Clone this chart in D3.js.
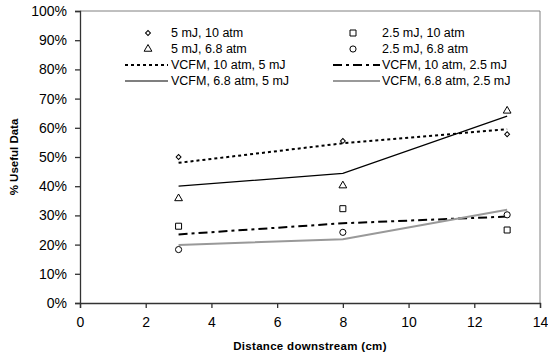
<!DOCTYPE html>
<html>
<head>
<meta charset="utf-8">
<script src="https://cdn.jsdelivr.net/npm/d3@7"></script>
<style>
  body { margin: 0; background: #fff; }
  text { font-family: "Liberation Sans", Arial, sans-serif; fill: #000; }
</style>
</head>
<body>
<div id="chart"></div>
<script>
// distances (cm)
const distances = [3, 8, 13];

// measured points (% useful data)
const pts5mJ10atm = [50, 55.5, 57.8];
const pts5mJ68atm = [35.8, 40.2, 65.8];
const pts25mJ10atm = [26.3, 32.3, 25];
const pts25mJ68atm = [18.3, 24.2, 30.2];

// VCFM model lines
const vcfm10atm5mJ = [48, 54.7, 59.5];
const vcfm68atm5mJ = [40, 44.4, 64];
const vcfm10atm25mJ = [23.5, 27.3, 29.6];
const vcfm68atm25mJ = [19.9, 21.8, 31.9];

const xTicks = [0, 2, 4, 6, 8, 10, 12, 14];
const yTicks = [0, 10, 20, 30, 40, 50, 60, 70, 80, 90, 100];

const width = 548, height = 360;
const margin = {top: 11, right: 8, bottom: 57, left: 80};

const svg = d3.select("#chart").append("svg")
  .attr("width", width)
  .attr("height", height);

const x = d3.scaleLinear().domain([0, 14]).range([margin.left, width - margin.right]);
const y = d3.scaleLinear().domain([0, 100]).range([height - margin.bottom, margin.top]);

// frame (top/right)
svg.append("path")
  .attr("d", `M${x(0)},${y(100)}H${x(14)}V${y(0)}`)
  .attr("fill", "none")
  .attr("stroke", "#808080")
  .attr("stroke-width", 1);

// axes
const xAxis = svg.append("g")
  .attr("transform", `translate(0,${y(0)})`)
  .call(d3.axisBottom(x).tickValues(xTicks).tickSize(5).tickPadding(9).tickFormat(d3.format("d")));
const yAxis = svg.append("g")
  .attr("transform", `translate(${x(0)},0)`)
  .call(d3.axisLeft(y).tickValues(yTicks).tickSize(5).tickPadding(8).tickFormat(d => d + "%"));

[xAxis, yAxis].forEach(g => {
  g.selectAll("path, line").attr("stroke", "#333").attr("stroke-width", 1.3);
  g.selectAll("text").style("font-size", "14px").attr("fill", "#222");
});

// axis titles
svg.append("text")
  .attr("x", (x(0) + x(14)) / 2)
  .attr("y", 350)
  .attr("text-anchor", "middle")
  .style("font-size", "11.5px")
  .style("font-weight", "bold")
  .style("letter-spacing", "0.3px")
  .text("Distance downstream (cm)");

svg.append("text")
  .attr("transform", `translate(18,${(y(0) + y(100)) / 2}) rotate(-90)`)
  .attr("text-anchor", "middle")
  .style("font-size", "11.5px")
  .style("font-weight", "bold")
  .text("% Useful Data");

// lines
const lineGen = d3.line()
  .x((d, i) => x(distances[i]))
  .y(d => y(d));

const lineSeries = [
  {name: "VCFM, 10 atm, 5 mJ", values: vcfm10atm5mJ, stroke: "#000", width: 2, dash: "3,3"},
  {name: "VCFM, 10 atm, 2.5 mJ", values: vcfm10atm25mJ, stroke: "#000", width: 2, dash: "9,4,3,4"},
  {name: "VCFM, 6.8 atm, 5 mJ", values: vcfm68atm5mJ, stroke: "#000", width: 1.2, dash: null},
  {name: "VCFM, 6.8 atm, 2.5 mJ", values: vcfm68atm25mJ, stroke: "#999", width: 2, dash: null}
];

svg.append("g").selectAll("path")
  .data(lineSeries)
  .join("path")
  .attr("d", d => lineGen(d.values))
  .attr("fill", "none")
  .attr("stroke", d => d.stroke)
  .attr("stroke-width", d => d.width)
  .attr("stroke-dasharray", d => d.dash);

// markers (diamond = square turned 45 degrees)
const pointSeries = [
  {name: "5 mJ, 10 atm", values: pts5mJ10atm, symbol: d3.symbolSquare, size: 12, rot: 45},
  {name: "2.5 mJ, 10 atm", values: pts25mJ10atm, symbol: d3.symbolSquare, size: 36, rot: 0},
  {name: "5 mJ, 6.8 atm", values: pts5mJ68atm, symbol: d3.symbolTriangle, size: 26, rot: 0},
  {name: "2.5 mJ, 6.8 atm", values: pts25mJ68atm, symbol: d3.symbolCircle, size: 30, rot: 0}
];

pointSeries.forEach(s => {
  svg.append("g").selectAll("path")
    .data(s.values)
    .join("path")
    .attr("transform", (d, i) => `translate(${x(distances[i])},${y(d)}) rotate(${s.rot})`)
    .attr("d", d3.symbol(s.symbol, s.size))
    .attr("fill", "#fff")
    .attr("stroke", "#000")
    .attr("stroke-width", 1);
});

// legend
const legendRows = [33, 49, 65, 81];
const cols = [
  {sym: 148, lineX0: 125, lineX1: 168, text: 171},
  {sym: 353, lineX0: 333, lineX1: 380, text: 382}
];

const legendItems = [
  {type: "pt", s: pointSeries[0], col: 0, row: 0},
  {type: "pt", s: pointSeries[1], col: 1, row: 0},
  {type: "pt", s: pointSeries[2], col: 0, row: 1},
  {type: "pt", s: pointSeries[3], col: 1, row: 1},
  {type: "ln", s: lineSeries[0], col: 0, row: 2},
  {type: "ln", s: lineSeries[1], col: 1, row: 2},
  {type: "ln", s: lineSeries[2], col: 0, row: 3},
  {type: "ln", s: lineSeries[3], col: 1, row: 3}
];

const legend = svg.append("g");
legendItems.forEach(it => {
  const c = cols[it.col], ry = legendRows[it.row];
  if (it.type === "pt") {
    legend.append("path")
      .attr("transform", `translate(${c.sym},${ry}) rotate(${it.s.rot})`)
      .attr("d", d3.symbol(it.s.symbol, it.s.size))
      .attr("fill", "#fff")
      .attr("stroke", "#000");
  } else {
    legend.append("line")
      .attr("x1", c.lineX0).attr("x2", c.lineX1)
      .attr("y1", ry).attr("y2", ry)
      .attr("stroke", it.s.stroke)
      .attr("stroke-width", it.s.width)
      .attr("stroke-dasharray", it.s.dash);
  }
  legend.append("text")
    .attr("x", c.text)
    .attr("y", ry)
    .attr("dy", "0.35em")
    .style("font-size", "12.5px")
    .text(it.s.name);
});
</script>
</body>
</html>
